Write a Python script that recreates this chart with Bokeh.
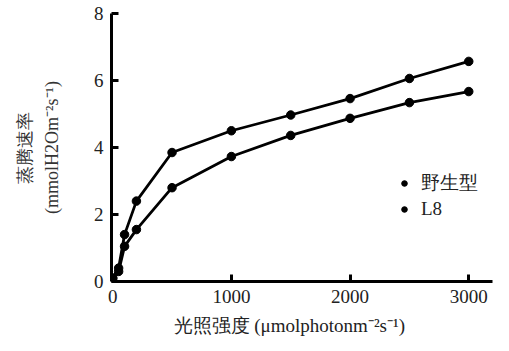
from bokeh.plotting import figure
from bokeh.models import Range1d, FixedTicker, Legend, LegendItem, Title
from bokeh.embed import file_html
from bokeh.resources import INLINE

# data
light = [0, 50, 100, 200, 500, 1000, 1500, 2000, 2500, 3000]
wild_type = [0.1, 0.4, 1.4, 2.4, 3.85, 4.5, 4.97, 5.46, 6.06, 6.57]
l8 = [0.1, 0.3, 1.05, 1.55, 2.8, 3.73, 4.36, 4.87, 5.34, 5.67]
x_ticks = [0, 1000, 2000, 3000]
y_ticks = [0, 2, 4, 6, 8]
series_names = ["野生型", "L8"]
x_title = "光照强度 (μmolphotonm⁻²s⁻¹)"
y_title_1 = "蒸腾速率"
y_title_2 = "(mmolH2Om⁻²s⁻¹)"

SERIF = "Liberation Serif"
TXT = "#222222"

p = figure(frame_width=381, frame_height=268,
           min_border_left=111, min_border_right=1,
           min_border_top=13, min_border_bottom=64,
           x_range=Range1d(-10, 3200), y_range=Range1d(0, 8),
           output_backend="svg", toolbar_location=None)
p.outline_line_color = None
p.xgrid.visible = False
p.ygrid.visible = False

for ax, ticks in ((p.xaxis, x_ticks), (p.yaxis, y_ticks)):
    ax.ticker = FixedTicker(ticks=ticks)
    ax.axis_line_width = 3
    ax.axis_line_color = "black"
    ax.major_tick_line_width = 3
    ax.major_tick_line_color = "black"
    ax.major_tick_in = 7
    ax.major_tick_out = 0
    ax.minor_tick_line_color = None
    ax.major_label_text_font = SERIF
    ax.major_label_text_font_size = "19px"
    ax.major_label_text_color = TXT
p.xaxis.major_label_standoff = 8
p.yaxis.major_label_standoff = 8

p.yaxis.axis_label = y_title_2
p.yaxis.axis_label_text_font = SERIF
p.yaxis.axis_label_text_font_size = "18px"
p.yaxis.axis_label_text_font_style = "normal"
p.yaxis.axis_label_text_color = "#333333"
p.yaxis.axis_label_standoff = 29

lw = p.line(light, wild_type, line_color="black", line_width=2.8)
sw = p.scatter(light, wild_type, size=8.5, fill_color="black", line_color="black")
ll = p.line(light, l8, line_color="black", line_width=2.8)
sl = p.scatter(light, l8, size=8.5, fill_color="black", line_color="black")

legend = Legend(items=[LegendItem(label=series_names[0], renderers=[sw]),
                       LegendItem(label=series_names[1], renderers=[sl])],
                location=(286, 61), orientation="vertical",
                background_fill_alpha=0, border_line_color=None,
                padding=0, margin=0, spacing=2,
                glyph_width=14, glyph_height=20, label_height=20,
                label_standoff=10,
                label_text_font=SERIF, label_text_font_size="19px",
                label_text_color=TXT)
p.add_layout(legend, "center")

p.add_layout(Title(text=x_title, align="left", offset=62,
                   text_font=SERIF, text_font_size="19px",
                   text_font_style="normal", text_color=TXT, standoff=14), "below")
p.add_layout(Title(text=y_title_1, align="center",
                   text_font=SERIF, text_font_size="18px",
                   text_font_style="normal", text_color="#333333", standoff=8), "left")

open("out.html", "w").write(file_html(p, INLINE))
